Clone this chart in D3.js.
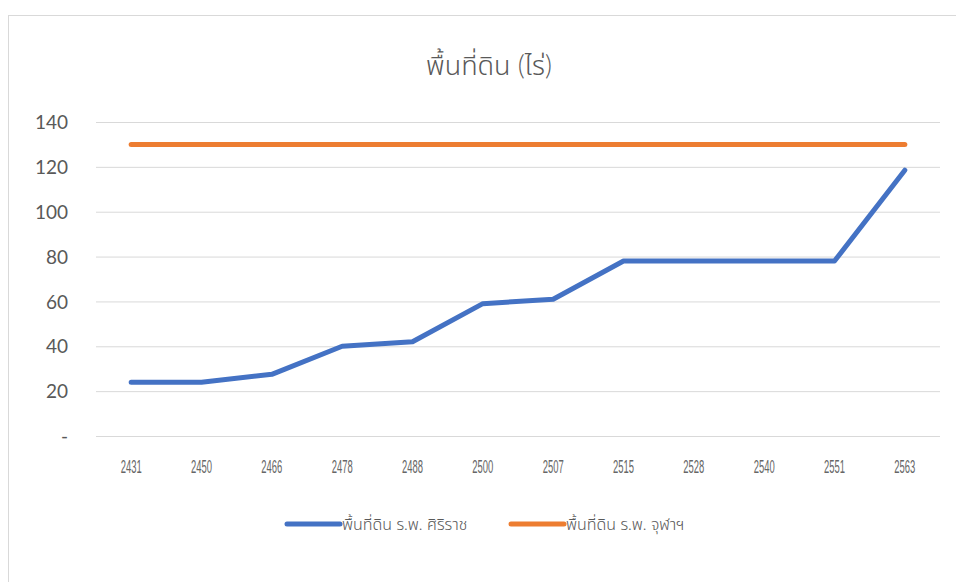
<!DOCTYPE html>
<html>
<head>
<meta charset="utf-8">
<script src="https://cdn.jsdelivr.net/npm/d3@7"></script>
<style>
  html, body { margin: 0; padding: 0; background: #fff; }
  svg { display: block; }
</style>
</head>
<body>
<svg id="chart" width="956" height="582"></svg>
<script>
// Land area (rai) by Buddhist-era year
const years = ["2431", "2450", "2466", "2478", "2488", "2500", "2507", "2515", "2528", "2540", "2551", "2563"];
const sirirajArea = [24, 24, 27.5, 40, 42, 59, 61, 78, 78, 78, 78, 118.5];
const chulaArea = [130, 130, 130, 130, 130, 130, 130, 130, 130, 130, 130, 130];
const yTicks = [0, 20, 40, 60, 80, 100, 120, 140];
const seriesNames = ["พื้นที่ดิน ร.พ. ศิริราช", "พื้นที่ดิน ร.พ. จุฬาฯ"];
const seriesColors = ["#4472C4", "#ED7D31"];
const titleText = "พื้นที่ดิน (ไร่)";

const svg = d3.select("#chart");
const textColor = "#595959";
const fontFamily = "Lato, 'Noto Sans', 'Noto Sans Thai', sans-serif";

// chart frame
svg.append("rect")
  .attr("x", 8.5).attr("y", 15.5)
  .attr("width", 960).attr("height", 600)
  .attr("fill", "#fff")
  .attr("stroke", "#d9d9d9").attr("stroke-width", 1);

const plot = { left: 96, right: 940, top: 122, bottom: 436 };

const x = d3.scaleBand().domain(years).range([plot.left, plot.right]);
const y = d3.scaleLinear().domain([0, 140]).range([plot.bottom, plot.top]);

// gridlines
const yAxis = d3.axisLeft(y).tickValues(yTicks)
  .tickSize(-(plot.right - plot.left))
  .tickFormat(d => d === 0 ? "-" : d3.format("d")(d));

const gy = svg.append("g")
  .attr("transform", `translate(${plot.left},0)`)
  .call(yAxis);
gy.select(".domain").remove();
gy.selectAll(".tick line").attr("stroke", "#d9d9d9").attr("stroke-width", 1);
gy.selectAll(".tick text")
  .attr("x", -28)
  .attr("dy", "0.35em")
  .attr("fill", textColor)
  .style("font-family", fontFamily)
  .style("font-size", "19px");

// category axis
const xAxis = d3.axisBottom(x).tickSize(0);
const gx = svg.append("g")
  .attr("transform", `translate(0,${plot.bottom})`)
  .call(xAxis);
gx.select(".domain").remove();
gx.selectAll(".tick text")
  .attr("y", 37)
  .attr("dy", "0")
  .attr("fill", "#666")
  .attr("textLength", 21)
  .attr("lengthAdjust", "spacingAndGlyphs")
  .style("font-family", "'Liberation Sans', Arial, sans-serif")
  .style("font-weight", "300")
  .style("font-size", "18px");

// series lines
const line = d3.line()
  .x((d, i) => x(years[i]) + x.bandwidth() / 2)
  .y(d => y(d));

[sirirajArea, chulaArea].forEach((vals, i) => {
  svg.append("path")
    .datum(vals)
    .attr("d", line)
    .attr("fill", "none")
    .attr("stroke", seriesColors[i])
    .attr("stroke-width", 5)
    .attr("stroke-linecap", "round")
    .attr("stroke-linejoin", "round");
});

// title
svg.append("text")
  .attr("x", 489).attr("y", 75)
  .attr("text-anchor", "middle")
  .attr("fill", textColor)
  .style("font-family", fontFamily)
  .style("font-weight", "300")
  .style("font-size", "27px")
  .text(titleText);

// legend
const legendItems = [
  { x: 287, name: seriesNames[0], color: seriesColors[0] },
  { x: 511, name: seriesNames[1], color: seriesColors[1] }
];
const lg = svg.append("g");
legendItems.forEach(item => {
  lg.append("line")
    .attr("x1", item.x).attr("x2", item.x + 53)
    .attr("y1", 524).attr("y2", 524)
    .attr("stroke", item.color)
    .attr("stroke-width", 5)
    .attr("stroke-linecap", "round");
  lg.append("text")
    .attr("x", item.x + 55).attr("y", 530)
    .attr("fill", textColor)
    .style("font-family", fontFamily)
    .style("font-weight", "300")
    .style("font-size", "16px")
    .text(item.name);
});
</script>
</body>
</html>
